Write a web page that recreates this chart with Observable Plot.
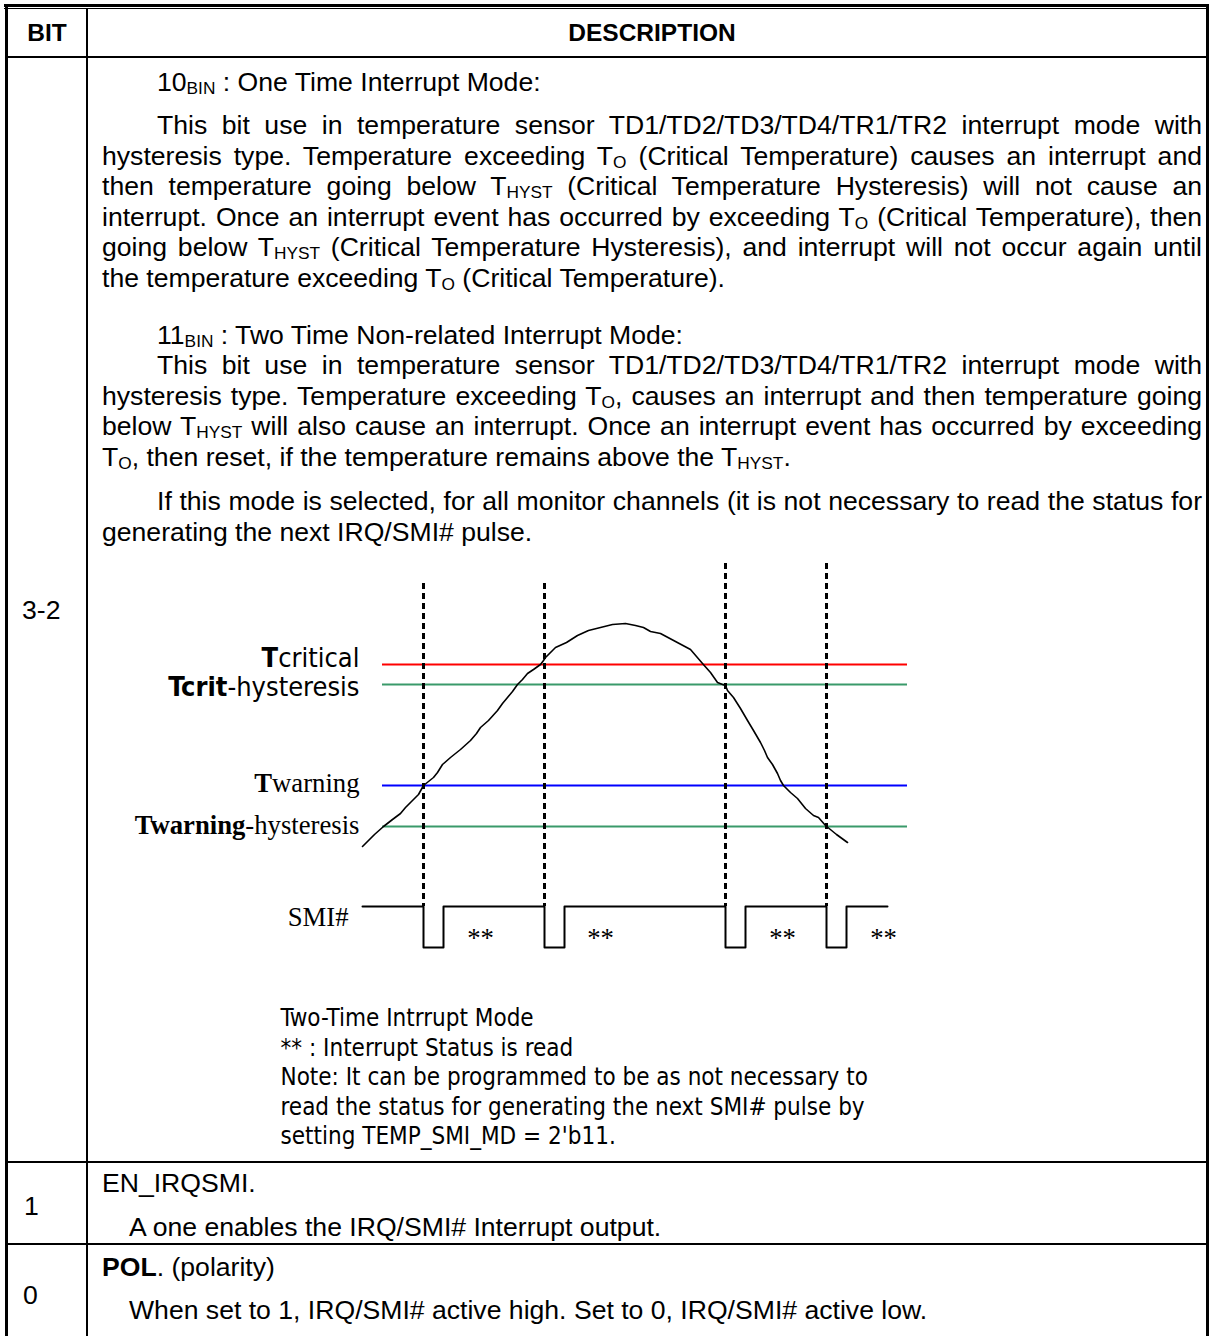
<!DOCTYPE html>
<html><head><meta charset="utf-8">
<script src="https://cdn.jsdelivr.net/npm/d3@7"></script>
<script src="https://cdn.jsdelivr.net/npm/@observablehq/plot@0.6"></script>
<style>
html,body{margin:0;padding:0;background:#fff;}
#page{position:relative;width:1209px;height:1336px;overflow:hidden;font-family:"Liberation Sans",Arial,sans-serif;color:#000;}
.b{position:absolute;background:#000;}
.t{position:absolute;font-size:26.6px;line-height:30.6px;white-space:nowrap;}
.h{position:absolute;font-weight:bold;font-size:24.5px;line-height:30px;text-align:center;white-space:nowrap;}
.j{position:absolute;left:102px;width:1100px;font-size:26.6px;line-height:30.6px;}
.j div{text-align:justify;text-align-last:justify;}
sub{font-size:65%;vertical-align:-3px;line-height:0;}
#fig{position:absolute;left:0;top:540px;}
</style></head>
<body><div id="page"><div id="fig"></div></div>
<script>
// ---------- text content ----------
const headers = ["BIT", "DESCRIPTION"];
const bitLabels = ["3-2", "1", "0"];
const mode10Title = "10<sub>BIN</sub> : One Time Interrupt Mode:";
const mode10Lines = [
  "This bit use in temperature sensor TD1/TD2/TD3/TD4/TR1/TR2 interrupt mode with",
  "hysteresis type. Temperature exceeding T<sub>O</sub> (Critical Temperature) causes an interrupt and",
  "then temperature going below T<sub>HYST</sub> (Critical Temperature Hysteresis) will not cause an",
  "interrupt. Once an interrupt event has occurred by exceeding T<sub>O</sub> (Critical Temperature), then",
  "going below T<sub>HYST</sub> (Critical Temperature Hysteresis), and interrupt will not occur again until",
  "the temperature exceeding T<sub>O</sub> (Critical Temperature)."
];
const mode11Title = "11<sub>BIN</sub> : Two Time Non-related Interrupt Mode:";
const mode11Lines = [
  "This bit use in temperature sensor TD1/TD2/TD3/TD4/TR1/TR2 interrupt mode with",
  "hysteresis type. Temperature exceeding T<sub>O</sub>, causes an interrupt and then temperature going",
  "below T<sub>HYST</sub> will also cause an interrupt. Once an interrupt event has occurred by exceeding",
  "T<sub>O</sub>, then reset, if the temperature remains above the T<sub>HYST</sub>."
];
const modeNoteLines = [
  "If this mode is selected, for all monitor channels (it is not necessary to read the status for",
  "generating the next IRQ/SMI# pulse."
];
const bit1Lines = ["EN_IRQSMI.", "A one enables the IRQ/SMI# Interrupt output."];
const bit0Lines = ["<b>POL</b>. (polarity)", "When set to 1, IRQ/SMI# active high. Set to 0, IRQ/SMI# active low."];

// ---------- diagram data (time = horizontal position, temp = level) ----------
const thresholds = [
  {name: "Tcritical", bold: "T", rest: "critical", level: 336, labelLevel: 334, color: "#ff0000", family: "sans"},
  {name: "Tcrit-hysteresis", bold: "Tcrit", rest: "-hysteresis", level: 316, labelLevel: 305, color: "#3a9a6a", family: "sans"},
  {name: "Twarning", bold: "T", rest: "warning", level: 215, labelLevel: 209, color: "#0000ff", family: "serif"},
  {name: "Twarning-hysteresis", bold: "Twarning", rest: "-hysteresis", level: 174, labelLevel: 167, color: "#3a9a6a", family: "serif"}
];
const thresholdSpan = [382, 907];
const labelTime = 359;
const tempCurve = [
  [362,154],[368,160],[374,166],[383,174],[392,181],[400,187],[405,193],[410,198],[418,206],[423,215],
  [428,219],[433,223],[437,228],[442,236],[450,243],[460,251],[470,260],[476,267],[480,273],[488,280],
  [497,290],[502,297],[507,303],[512,309],[517,316],[522,321],[527,327],[533,331],[540,336],[543,340],
  [545,343],[550,348],[555,353],[566,358],[577,365],[588,370],[600,373],[612,376],[625,377],[635,375],
  [643,373],[650,369],[660,367],[675,359],[690,351],[696,344],[702,337],[710,328],[717,318],[722,316],
  [725,315],[727,310],[733,303],[740,292],[747,280],[753,270],[760,258],[764,250],[767,243],[772,236],
  [777,227],[780,220],[783,215],[790,208],[797,202],[805,192],[813,185],[818,183],[825,175],[836,166],[847,158]
];
const events = [
  {time: 423, top: 417},
  {time: 544, top: 417},
  {time: 725, top: 437},
  {time: 826, top: 437}
];
const smiHigh = 94, smiLow = 53;
const smiSpan = [362, 887];
const pulseWidth = 20;
const statusReads = [480, 600, 782, 883];
const smiLabel = {text: "SMI#", time: 348, level: 75};
const starLevel = 54;
const caption = {
  time: 280, level: -143.5,
  text: ["Two-Time Intrrupt Mode", "** : Interrupt Status is read",
         "Note: It can be programmed to be as not necessary to",
         "read the status for generating the next SMI# pulse by",
         "setting TEMP_SMI_MD = 2'b11."].join("\n")
};

// ---------- table layout ----------
const page = document.getElementById("page");
function box(l, t, w, h) { const d = document.createElement("div"); d.className = "b"; Object.assign(d.style, {left: l + "px", top: t + "px", width: w + "px", height: h + "px"}); page.appendChild(d); }
box(4, 4, 1205, 2.5); box(4, 7.5, 1205, 1.5);
box(4.5, 4, 3.5, 1332); box(1206, 4, 3, 1332);
box(86, 8, 2, 1328);
box(8, 56, 1201, 2); box(8, 1160.5, 1201, 2); box(8, 1243, 1201, 2);
function txt(html, l, t, cls) { const d = document.createElement("div"); d.className = cls || "t"; d.innerHTML = html; d.style.left = l + "px"; d.style.top = t + "px"; page.appendChild(d); return d; }
const h1 = txt(headers[0], 8, 18, "h"); h1.style.width = "78px";
const h2 = txt(headers[1], 88, 18, "h"); h2.style.width = "1128px";
txt(bitLabels[0], 22, 595); txt(bitLabels[1], 24, 1191); txt(bitLabels[2], 23, 1280);
txt(mode10Title, 157, 67);
txt(mode11Title, 157, 320);
function para(lines, top, indent) {
  const d = document.createElement("div"); d.className = "j"; d.style.top = top + "px";
  lines.forEach((l, i) => { const r = document.createElement("div"); r.innerHTML = l;
    if (i === 0) r.style.textIndent = indent + "px";
    if (i === lines.length - 1) r.style.textAlignLast = "left";
    d.appendChild(r); });
  page.appendChild(d);
}
para(mode10Lines, 110, 55);
para(mode11Lines, 350, 55);
para(modeNoteLines, 486, 55);
txt(bit1Lines[0], 102, 1168); txt(bit1Lines[1], 129, 1212);
txt(bit0Lines[0], 102, 1252); txt(bit0Lines[1], 129, 1295);

// ---------- diagram ----------
const W = 1209, H = 620, TOP = 540;
const smiPoints = [[smiSpan[0], smiHigh]];
events.forEach(e => { smiPoints.push([e.time, smiHigh], [e.time, smiLow], [e.time + pulseWidth, smiLow], [e.time + pulseWidth, smiHigh]); });
smiPoints.push([smiSpan[1], smiHigh]);
const sansFont = "'DejaVu Sans Condensed', 'DejaVu Sans', sans-serif";
const serifFont = "'Liberation Serif', 'Times New Roman', serif";

const fig = Plot.plot({
  width: W, height: H,
  marginTop: 0, marginRight: 0, marginBottom: 0, marginLeft: 0,
  x: {domain: [0, W], range: [0, W], axis: null},
  y: {domain: [1000 - TOP - H, 1000 - TOP], range: [H, 0], axis: null},
  color: {type: "identity"},
  style: "background: transparent; overflow: visible;",
  marks: [
    Plot.ruleY(thresholds, {y: "level", x1: thresholdSpan[0], x2: thresholdSpan[1], stroke: "color", strokeWidth: 2}),
    Plot.ruleX(events, {x: "time", y1: "top", y2: smiHigh, stroke: "#000", strokeWidth: 3, strokeDasharray: "6,4"}),
    Plot.line(tempCurve, {x: d => d[0], y: d => d[1], stroke: "#000", strokeWidth: 1.6}),
    Plot.line(smiPoints, {x: d => d[0], y: d => d[1], stroke: "#000", strokeWidth: 2}),
    Plot.text(thresholds.filter(d => d.family === "sans"), {x: () => labelTime, y: "labelLevel", text: "name", textAnchor: "end", lineAnchor: "bottom", fontSize: 27, fontFamily: sansFont, fill: "#000"}),
    Plot.text(thresholds.filter(d => d.family === "serif"), {x: () => labelTime, y: "labelLevel", text: "name", textAnchor: "end", lineAnchor: "bottom", fontSize: 26.7, fontFamily: serifFont, fill: "#000"}),
    Plot.text([smiLabel], {x: "time", y: "level", text: "text", textAnchor: "end", lineAnchor: "bottom", fontSize: 26.7, fontFamily: serifFont, fill: "#000"}),
    Plot.text(statusReads, {x: d => d, y: () => starLevel, text: () => "**", textAnchor: "middle", lineAnchor: "bottom", fontSize: 26.7, fontFamily: serifFont, fill: "#000"}),
    Plot.text([caption], {x: "time", y: "level", text: "text", textAnchor: "start", lineAnchor: "bottom", lineHeight: 29.4 / 24, fontSize: 24, fontFamily: sansFont, fill: "#000"})
  ]
});
document.getElementById("fig").appendChild(fig);

// mixed bold / regular label parts
fig.querySelectorAll("text").forEach(t => {
  const d = thresholds.find(r => r.name === t.textContent);
  if (!d) return;
  t.textContent = "";
  const b = document.createElementNS("http://www.w3.org/2000/svg", "tspan"); b.setAttribute("font-weight", "bold"); b.textContent = d.bold;
  const r = document.createElementNS("http://www.w3.org/2000/svg", "tspan"); r.textContent = d.rest;
  t.appendChild(b); t.appendChild(r);
});
</script>
</body></html>
